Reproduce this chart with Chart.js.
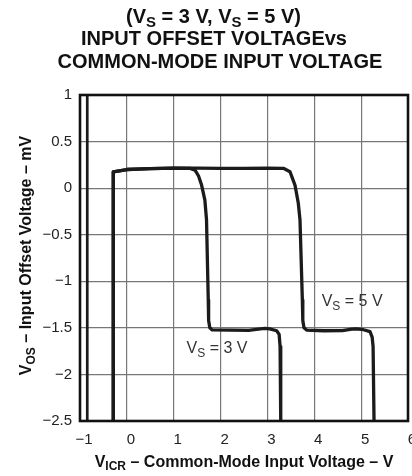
<!DOCTYPE html>
<html><head><meta charset="utf-8">
<script src="https://cdn.jsdelivr.net/npm/chart.js@4/dist/chart.umd.min.js"></script>
<style>html,body{margin:0;padding:0;background:#fff;overflow:hidden}canvas{display:block}</style>
</head><body>
<canvas id="c" width="412" height="476"></canvas>
<script>
// ---- data ----
const xTicks = [-1, 0, 1, 2, 3, 4, 5, 6];
const yTicks = [-2.5, -2, -1.5, -1, -0.5, 0, 0.5, 1];

const vicr3 = [-0.29, -0.29, 0.0, 0.5, 1.0, 1.35, 1.455, 1.53, 1.595, 1.665, 1.70, 1.737, 1.745, 1.77, 1.82, 2.2, 2.6, 2.85, 2.95, 3.05, 3.197, 3.25, 3.27, 3.284];
const vos3  = [-2.5, 0.175, 0.2, 0.21, 0.215, 0.212, 0.194, 0.13, 0.033, -0.128, -0.34, -1.2, -1.42, -1.5, -1.522, -1.524, -1.527, -1.51, -1.505, -1.51, -1.531, -1.57, -1.7, -2.5];

const vicr5 = [-0.29, -0.29, 0.0, 0.5, 1.0, 1.5, 2.0, 2.5, 3.0, 3.34, 3.482, 3.588, 3.659, 3.695, 3.745, 3.755, 3.78, 3.836, 4.2, 4.6, 4.8, 4.9, 5.05, 5.189, 5.235, 5.255, 5.275];
const vos5  = [-2.5, 0.175, 0.2, 0.21, 0.215, 0.215, 0.213, 0.212, 0.215, 0.213, 0.176, 0.033, -0.163, -0.34, -1.2, -1.42, -1.5, -1.524, -1.531, -1.53, -1.513, -1.51, -1.52, -1.54, -1.6, -1.7, -2.5];

const vicrEdge = [-0.845, -0.845];
const vosEdge  = [-2.5, 1];

const seriesLabels = ['VS = 3 V', 'VS = 5 V', ''];

// ---- helpers ----
const FONT = '"Liberation Sans", Arial, Helvetica, sans-serif';
const pts = (xs, ys) => xs.map((x, i) => ({x: x, y: ys[i]}));
const fmt = v => String(v).replace('-', '\u2212');

function richWidth(ctx, parts, size, weight) {
  let w = 0;
  for (const p of parts) {
    const s = p[1] ? size * 0.75 : size;
    ctx.font = weight + ' ' + s + 'px ' + FONT;
    w += ctx.measureText(p[0]).width;
  }
  return w;
}
function drawRich(ctx, parts, x, y, align, size, weight, color) {
  const w = richWidth(ctx, parts, size, weight);
  let cx = align === 'center' ? x - w / 2 : (align === 'right' ? x - w : x);
  ctx.fillStyle = color;
  ctx.textBaseline = 'alphabetic';
  ctx.textAlign = 'left';
  for (const p of parts) {
    const s = p[1] ? size * 0.75 : size;
    ctx.font = weight + ' ' + s + 'px ' + FONT;
    ctx.fillText(p[0], cx, y + (p[1] ? size * 0.22 : 0));
    cx += ctx.measureText(p[0]).width;
  }
}

const lineStyle = {
  borderColor: '#1b1b1b', borderWidth: 3.3, pointRadius: 0, tension: 0,
  borderJoinStyle: 'round', borderCapStyle: 'butt', fill: false, showLine: true
};

const framePlugin = {
  id: 'frame',
  afterDatasetsDraw(chart) {
    const a = chart.chartArea, ctx = chart.ctx;
    ctx.save();
    ctx.strokeStyle = '#111';
    ctx.lineWidth = 2.6;
    ctx.strokeRect(a.left, a.top, a.right - a.left, a.bottom - a.top);
    ctx.restore();
  }
};

const textPlugin = {
  id: 'texts',
  afterDraw(chart) {
    const ctx = chart.ctx, xs = chart.scales.x, ys = chart.scales.y;
    ctx.save();
    // title
    drawRich(ctx, [['(V'], ['S', 1], [' = 3 V, V'], ['S', 1], [' = 5 V)']], 213.5, 22.7, 'center', 20, 'bold', '#111');
    drawRich(ctx, [['INPUT OFFSET VOLTAGEvs']], 214, 45, 'center', 20, 'bold', '#111');
    drawRich(ctx, [['COMMON-MODE INPUT VOLTAGE']], 220, 68.3, 'center', 20, 'bold', '#111');
    // x axis title
    drawRich(ctx, [['V'], ['ICR', 1], [' \u2013 Common-Mode Input Voltage \u2013 V']], (chart.chartArea.left + chart.chartArea.right) / 2, 466.5, 'center', 16, 'bold', '#111');
    // y axis title
    ctx.save();
    ctx.translate(31, 255.5);
    ctx.rotate(-Math.PI / 2);
    drawRich(ctx, [['V'], ['OS', 1], [' \u2013 Input Offset Voltage \u2013 mV']], 0, 0, 'center', 16, 'bold', '#111');
    ctx.restore();
    // curve labels
    drawRich(ctx, [['V'], ['S', 1], [' = 5 V']], xs.getPixelForValue(4.158), ys.getPixelForValue(-1.266), 'left', 16, 'normal', '#333');
    drawRich(ctx, [['V'], ['S', 1], [' = 3 V']], xs.getPixelForValue(1.275), ys.getPixelForValue(-1.774), 'left', 16, 'normal', '#333');
    ctx.restore();
  }
};

new Chart(document.getElementById('c'), {
  type: 'line',
  data: {
    datasets: [
      Object.assign({label: seriesLabels[0], data: pts(vicr3, vos3)}, lineStyle),
      Object.assign({label: seriesLabels[1], data: pts(vicr5, vos5)}, lineStyle),
      Object.assign({label: seriesLabels[2], data: pts(vicrEdge, vosEdge)}, lineStyle, {borderWidth: 2.7})
    ]
  },
  options: {
    responsive: false,
    animation: false,
    events: [],
    layout: {padding: {top: 95, right: 4, bottom: 0, left: 0}},
    plugins: {legend: {display: false}, title: {display: false}, tooltip: {enabled: false}},
    scales: {
      x: {
        type: 'linear', min: -1, max: 6,
        afterBuildTicks: s => { s.ticks = xTicks.map(v => ({value: v})); },
        afterFit: s => { s.height = 55; s.paddingLeft = 0; s.paddingRight = 0; },
        grid: {color: '#777', lineWidth: 1.2, drawTicks: false},
        border: {display: false},
        ticks: {padding: 10, labelOffset: 4, color: '#222', font: {family: FONT, size: 15}, maxRotation: 0, callback: v => fmt(v)}
      },
      y: {
        type: 'linear', min: -2.5, max: 1,
        afterBuildTicks: s => { s.ticks = yTicks.map(v => ({value: v})); },
        afterFit: s => { s.width = 80; s.paddingTop = 0; s.paddingBottom = 0; },
        grid: {color: '#777', lineWidth: 1.2, drawTicks: false},
        border: {display: false},
        ticks: {padding: 8, color: '#222', font: {family: FONT, size: 15}, callback: v => fmt(v)}
      }
    }
  },
  plugins: [framePlugin, textPlugin]
});
</script>
</body></html>
